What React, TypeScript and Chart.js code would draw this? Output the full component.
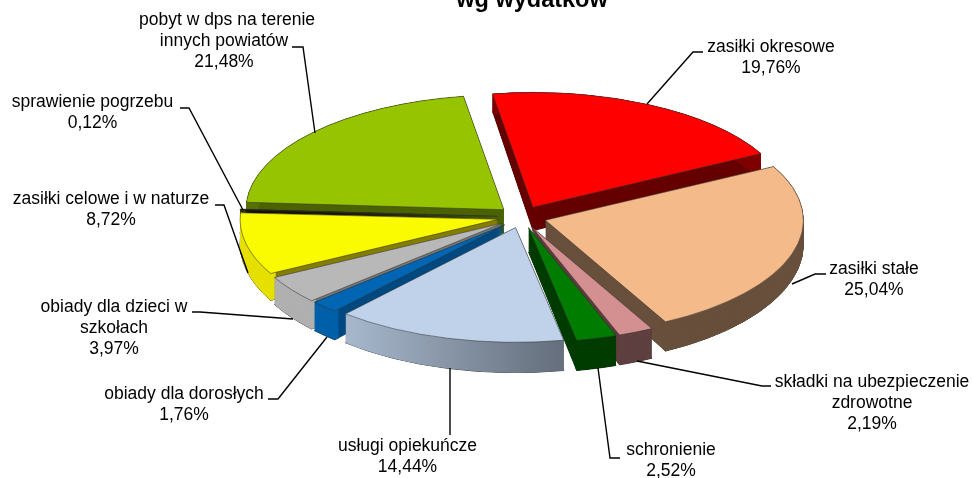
import React, { useEffect, useRef } from "react";
import { Chart, registerables } from "chart.js";

Chart.register(...registerables);

const categories = [
  "zasiłki okresowe",
  "zasiłki stałe",
  "składki na ubezpieczenie zdrowotne",
  "schronienie",
  "usługi opiekuńcze",
  "obiady dla dorosłych",
  "obiady dla dzieci w szkołach",
  "zasiłki celowe i w naturze",
  "sprawienie pogrzebu",
  "pobyt w dps na terenie innych powiatów",
];
const shares = [19.76, 25.04, 2.19, 2.52, 14.44, 1.76, 3.97, 8.72, 0.12, 21.48];
const shareLabels = ["19,76%", "25,04%", "2,19%", "2,52%", "14,44%", "1,76%", "3,97%", "8,72%", "0,12%", "21,48%"];
const titleText = "wg wydatków";

const topColors = ["#ff0000", "#f4ba8a", "#d49090", "#007d00", "#bfd2ea", "#0066b3", "#b8b8b8", "#fafa00", "#222200", "#96c400"];
const radialWallColors = ["#660000", "#68503c", "#5c3c3c", "#003c00", "#68717f", "#004a80", "#777777", "#857f00", "#111100", "#4c6300"];
const outerWallColors = ["#7f0000", "#68503c", "#5f4040", "#003c00", "#8c9bb0", "#0060aa", "#b0b0b0", "#e6e000", "#333300", "#5a7000"];

// Painter's order: back slices first.
const paintOrder = [9, 8, 0, 7, 1, 6, 2, 5, 3, 4];

const labelLines: string[][] = [
  ["zasiłki okresowe"],
  ["zasiłki stałe"],
  ["składki na ubezpieczenie", "zdrowotne"],
  ["schronienie"],
  ["usługi opiekuńcze"],
  ["obiady dla dorosłych"],
  ["obiady dla dzieci w", "szkołach"],
  ["zasiłki celowe i w naturze"],
  ["sprawienie pogrzebu"],
  ["pobyt w dps na terenie", "innych powiatów"],
];
const labelPos = [
  [771, 47], [874, 269], [872, 382], [671, 450], [407.5, 446],
  [184, 394], [114, 307], [111, 199], [92.5, 102], [224, 20],
];
const leaders = [
  [[703, 52], [693, 52], [647, 104]],
  [[826, 274], [815, 274], [792, 284]],
  [[771, 386], [762, 386], [637, 361]],
  [[620, 458], [610, 458], [598, 368]],
  [[450, 435], [450, 368]],
  [[268, 399], [278, 399], [327, 337]],
  [[192, 312], [200, 312], [293, 319]],
  [[215, 205], [224, 205], [248, 273]],
  [[180, 108], [189, 108], [243, 210]],
  [[292, 47], [303, 47], [315, 133]],
];

const SQUASH = 0.445;
const DEPTH = 24;
const PERSPECTIVE = 0.05;
const EXPLODE = 24.5;
const LAYERS = 60;
const RIM = 6;

const look = (backgroundColor: any, borderColor = "transparent", borderWidth = 0) => ({
  backgroundColor,
  borderColor,
  borderWidth,
  borderAlign: "center",
  borderJoinStyle: "round",
  borderRadius: 0,
  borderDash: [],
  borderDashOffset: 0,
  circular: true,
  offset: 0,
  spacing: 0,
});

const pie3d = {
  id: "pie3d",
  beforeDatasetsDraw(chart: any) {
    const ctx: CanvasRenderingContext2D = chart.ctx;
    const arcs = chart.getDatasetMeta(0).data;

    const paint = (el: any, t: number, options: any, inner = 0) => {
      const saved = el.options;
      const savedInner = el.innerRadius;
      const mid = (el.startAngle + el.endAngle) / 2;
      el.options = options;
      el.innerRadius = inner;
      ctx.save();
      ctx.translate(el.x, el.y + DEPTH * t);
      ctx.scale(1, SQUASH * (1 + PERSPECTIVE * t));
      ctx.translate(-el.x, -el.y);
      ctx.translate(Math.cos(mid) * EXPLODE, Math.sin(mid) * EXPLODE);
      el.draw(ctx);
      ctx.restore();
      el.options = saved;
      el.innerRadius = savedInner;
    };

    paintOrder.forEach((i) => {
      const el = arcs[i];
      let outer: any = outerWallColors[i];
      let radial: any = radialWallColors[i];
      if (i === 4) {
        const R = el.outerRadius;
        const mid = (el.startAngle + el.endAngle) / 2;
        const sx = Math.cos(mid) * EXPLODE + el.x;
        const g = ctx.createLinearGradient(sx + R * Math.cos(el.endAngle), 0, sx + R * Math.cos(el.startAngle), 0);
        g.addColorStop(0, "#a9bacf");
        g.addColorStop(1, "#66707e");
        outer = g;
      }
      paint(el, 1, look(radial, "rgba(40,40,40,0.7)", 1));
      paint(el, 1, look(outer, "rgba(40,40,40,0.7)", 1), el.outerRadius - RIM);
      for (let k = LAYERS; k >= 0; k--) paint(el, k / LAYERS, look(radial));
      for (let k = LAYERS; k >= 0; k--) paint(el, k / LAYERS, look(outer), el.outerRadius - RIM);
      paint(el, 0, look(topColors[i], "rgba(50,50,50,0.75)", 1));
    });
    return false;
  },
  afterDraw(chart: any) {
    const ctx: CanvasRenderingContext2D = chart.ctx;
    ctx.save();
    ctx.strokeStyle = "#000000";
    ctx.lineWidth = 1.4;
    ctx.lineJoin = "miter";
    leaders.forEach((pts) => {
      ctx.beginPath();
      pts.forEach(([x, y], n) => (n ? ctx.lineTo(x, y) : ctx.moveTo(x, y)));
      ctx.stroke();
    });
    ctx.fillStyle = "#000000";
    ctx.textAlign = "center";
    ctx.textBaseline = "alphabetic";
    ctx.font = '17.5px "Liberation Sans"';
    labelLines.forEach((lines, i) => {
      const [x, y] = labelPos[i];
      [...lines, shareLabels[i]].forEach((s, n) => {
        const nudge = i === 9 && n === 0 ? 3 : 0;
        ctx.fillText(s, x + nudge, y + 4.5 + n * 21.3);
      });
    });
    ctx.font = 'bold 23.5px "Liberation Sans"';
    ctx.fillText(titleText, 532, 7);
    ctx.restore();
  },
};

export default function App() {
  const ref = useRef<HTMLCanvasElement>(null);
  useEffect(() => {
    const chart = new Chart(ref.current as HTMLCanvasElement, {
      type: "pie",
      data: {
        labels: categories,
        datasets: [{ data: shares, backgroundColor: topColors, radius: 258, borderWidth: 0 } as any],
      },
      options: {
        animation: false,
        responsive: false,
        rotation: -9,
        events: [],
        layout: { padding: { left: 71, bottom: 44 } },
        plugins: { legend: { display: false }, title: { display: false }, tooltip: { enabled: false } },
      } as any,
      plugins: [pie3d as any],
    });
    return () => chart.destroy();
  }, []);
  return (
    <canvas
      ref={ref}
      width={973}
      height={478}
      style={{ position: "absolute", left: 0, top: 0, display: "block", background: "#fff" }}
    />
  );
}
